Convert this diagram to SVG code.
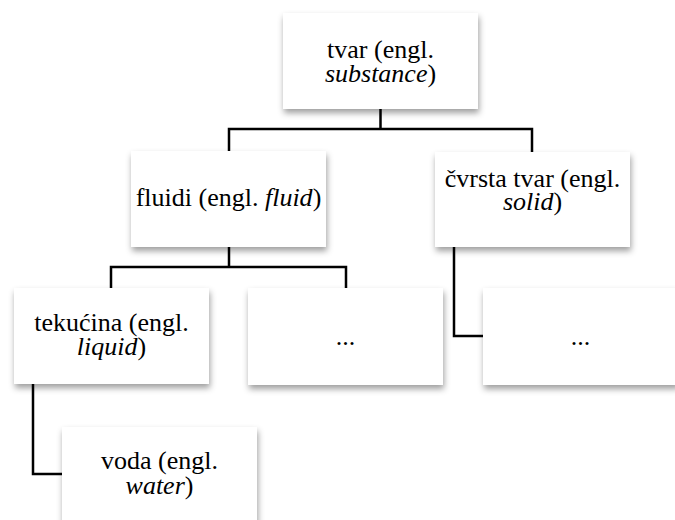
<svg xmlns="http://www.w3.org/2000/svg" width="675" height="520" viewBox="0 0 675 520">
<defs>
<filter id="sh" x="-10%" y="-10%" width="120%" height="130%">
<feDropShadow dx="1" dy="4" stdDeviation="3" flood-color="#000" flood-opacity="0.38"/>
</filter>
</defs>
<style>
.box{fill:#fff;filter:url(#sh)}
.t{font-family:"Liberation Serif","Times New Roman",serif;font-size:26px;fill:#000;text-anchor:middle}
.i{font-style:italic}
.c{fill:none;stroke:#000;stroke-width:2.5}
</style>
<rect width="675" height="520" fill="#fff"/>
<g id="n-tvar">
<rect class="box" x="283" y="13" width="195" height="96"/>
<text class="t" x="380.5" y="58">tvar (engl.<tspan x="380.5" dy="24"><tspan class="i">substance</tspan>)</tspan></text>
</g>
<g id="n-fluidi">
<rect class="box" x="131" y="151" width="195" height="96"/>
<text class="t" x="228.5" y="206">fluidi (engl. <tspan class="i">fluid</tspan>)</text>
</g>
<g id="n-cvrsta">
<rect class="box" x="435" y="152" width="195" height="95"/>
<text class="t" x="532.5" y="187">čvrsta tvar (engl.<tspan x="532.5" dy="23"><tspan class="i">solid</tspan>)</tspan></text>
</g>
<g id="n-tekucina">
<rect class="box" x="14" y="288" width="195" height="96"/>
<text class="t" x="111.5" y="331">tekućina (engl.<tspan x="111.5" dy="24"><tspan class="i">liquid</tspan>)</tspan></text>
</g>
<g id="n-dots1">
<rect class="box" x="248" y="288" width="195" height="97"/>
<text class="t" x="345.5" y="345">...</text>
</g>
<g id="n-dots2">
<rect class="box" x="483" y="288" width="195" height="97"/>
<text class="t" x="580.5" y="345">...</text>
</g>
<g id="n-voda">
<rect class="box" x="62" y="427" width="195" height="96"/>
<text class="t" x="159.5" y="469">voda (engl.<tspan x="159.5" dy="25"><tspan class="i">water</tspan>)</tspan></text>
</g>
<g id="connectors">
<path class="c" d="M380.5,109 V129"/>
<path class="c" d="M229,151 V129 H532 V152"/>
<path class="c" d="M229,247 V267"/>
<path class="c" d="M111,288 V267 H346 V288"/>
<path class="c" d="M454,247 V336 H483"/>
<path class="c" d="M33,384 V474 H62"/>
</g>
</svg>
